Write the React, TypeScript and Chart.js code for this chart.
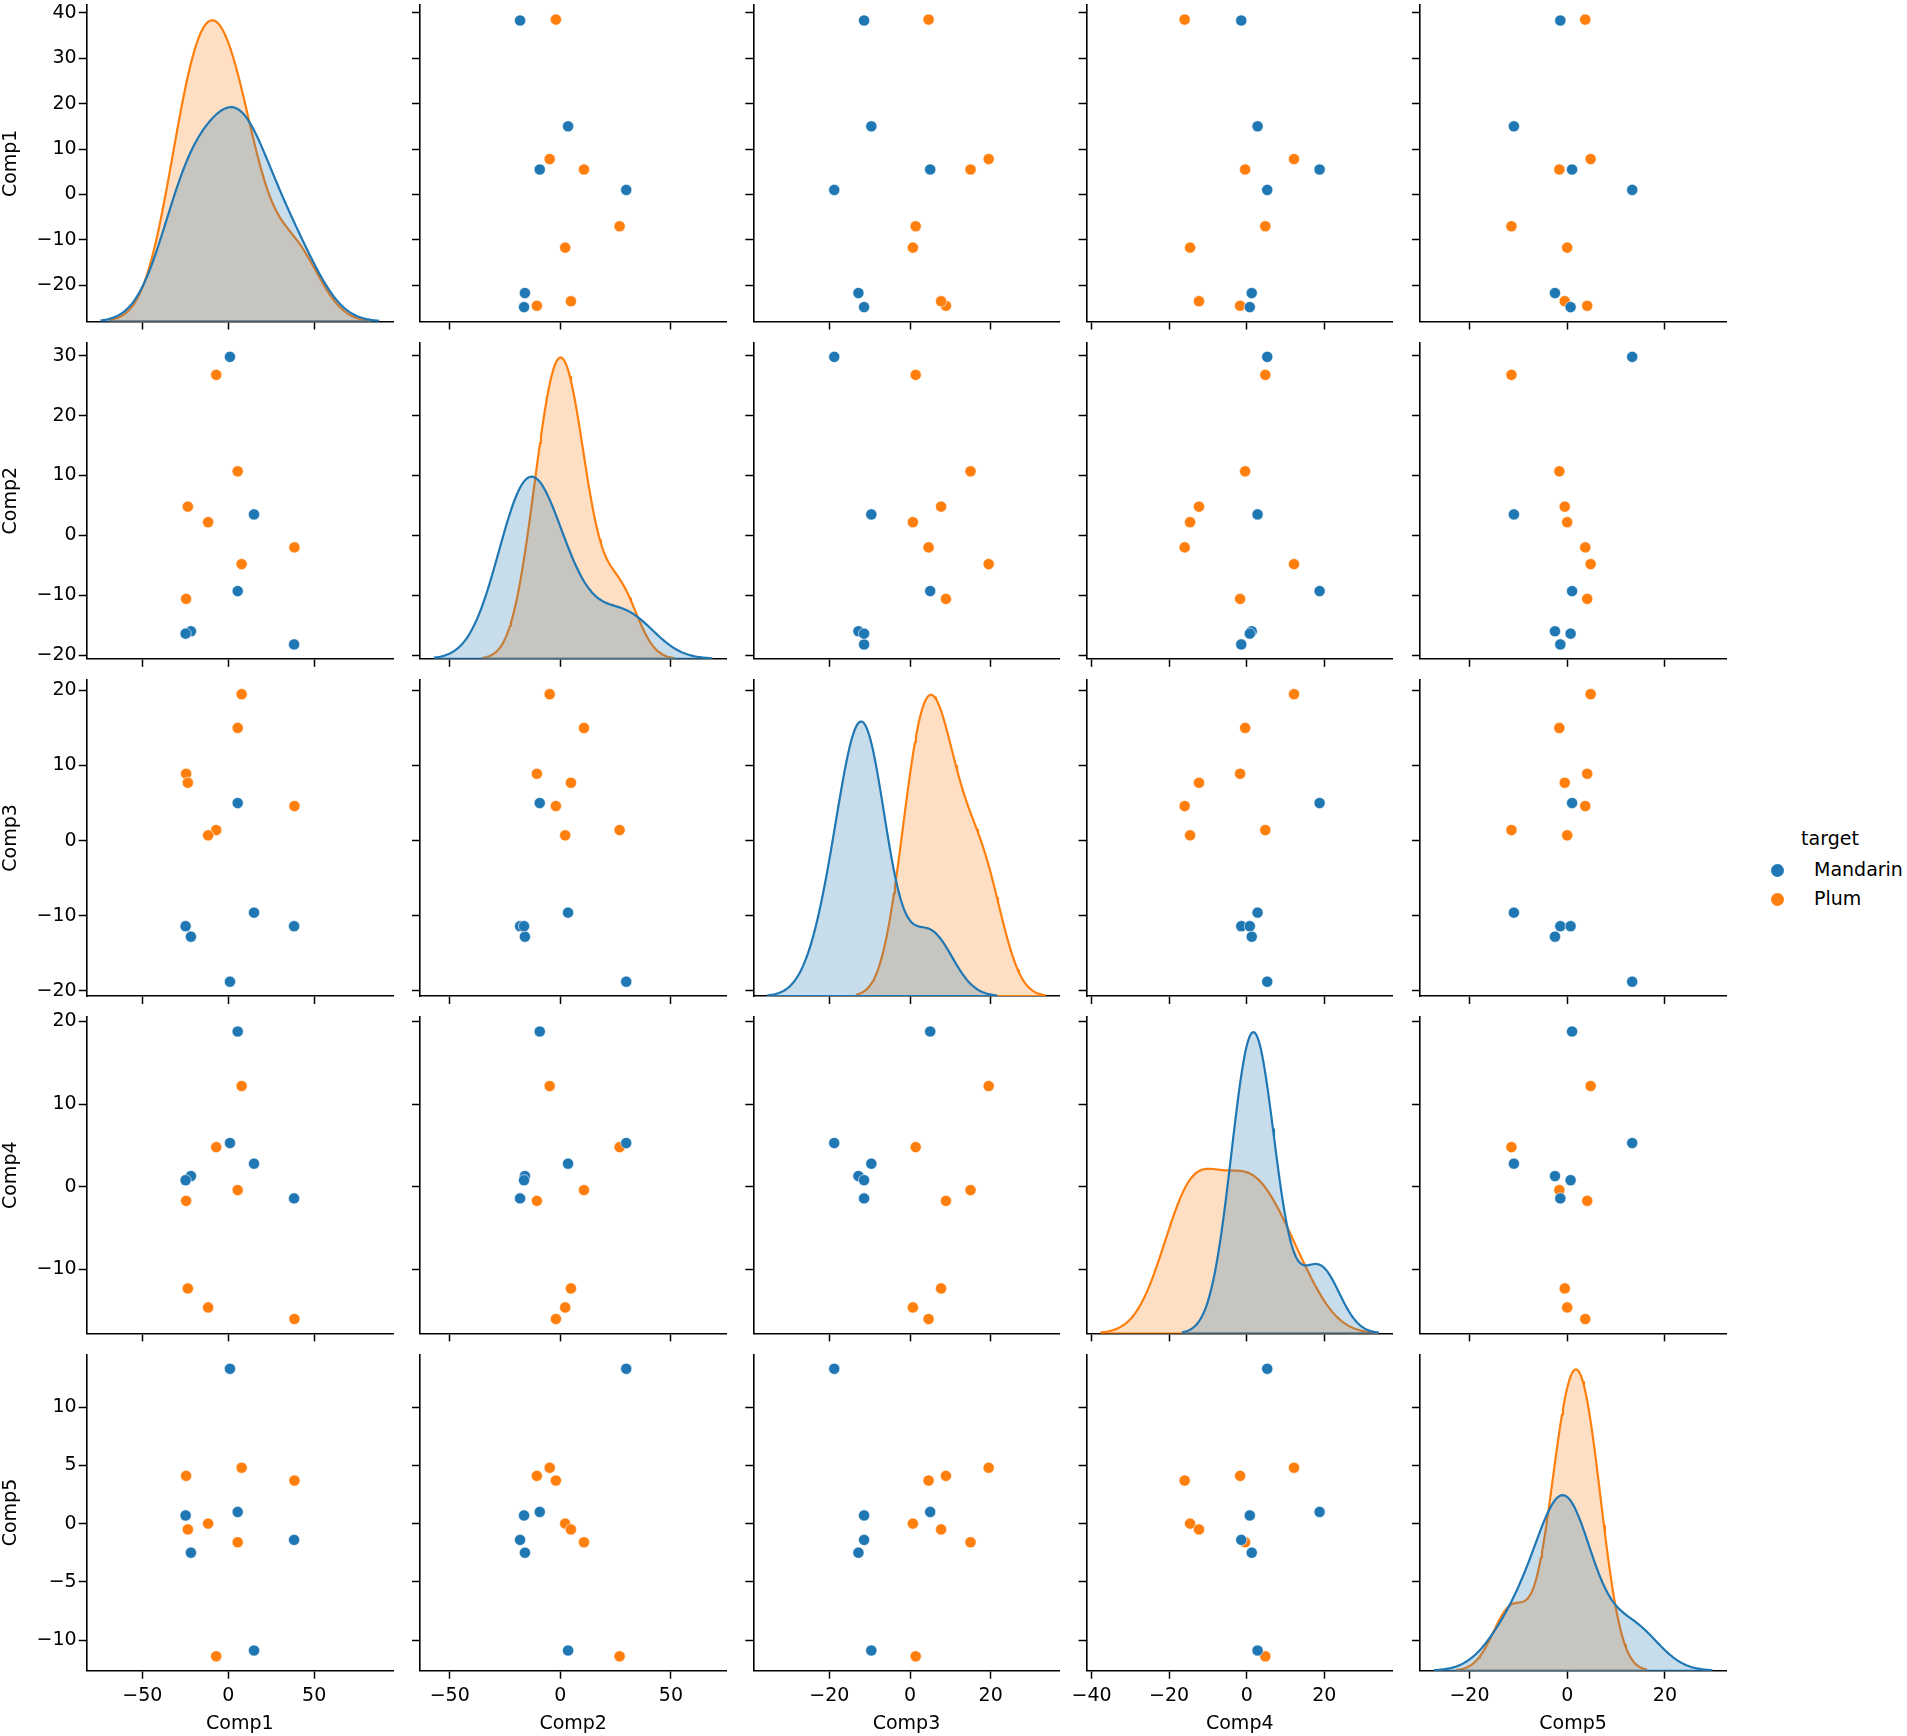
import React, { useEffect, useRef } from 'react';
import { Chart, registerables } from 'chart.js';

Chart.register(...registerables);

// ---------------- data ----------------
const variables = ['Comp1', 'Comp2', 'Comp3', 'Comp4', 'Comp5'];
const hueNames = ['Mandarin', 'Plum'];
const legendTitle = 'target';

const mandarinComp1 = [38.3, 15.0, 5.5, 1.0, -21.7, -24.8];
const mandarinComp2 = [-18.2, 3.5, -9.3, 29.8, -16.0, -16.4];
const mandarinComp3 = [-11.4, -9.6, 5.0, -18.8, -12.8, -11.4];
const mandarinComp4 = [-1.4, 2.8, 18.8, 5.3, 1.3, 0.8];
const mandarinComp5 = [-1.4, -10.9, 1.0, 13.3, -2.5, 0.7];

const plumComp1 = [38.5, 7.8, 5.5, -7.0, -11.7, -24.5, -23.5];
const plumComp2 = [-2.0, -4.8, 10.7, 26.8, 2.2, -10.6, 4.8];
const plumComp3 = [4.6, 19.5, 15.0, 1.4, 0.7, 8.9, 7.7];
const plumComp4 = [-16.0, 12.2, -0.4, 4.8, -14.6, -1.7, -12.3];
const plumComp5 = [3.7, 4.8, -1.6, -11.4, 0.0, 4.1, -0.5];

const xTickValues = [
  [-50, 0, 50],
  [-50, 0, 50],
  [-20, 0, 20],
  [-40, -20, 0, 20],
  [-20, 0, 20],
];
const yTickValues = [
  [-20, -10, 0, 10, 20, 30, 40],
  [-20, -10, 0, 10, 20, 30],
  [-20, -10, 0, 10, 20],
  [-10, 0, 10, 20],
  [-10, -5, 0, 5, 10],
];

// ---------------- styles / layout ----------------
const FONT = 'DejaVu Sans';
const FONT_SIZE = 19;
const COLORS = ['#1f77b4', '#ff7f0e'];
const FILLS = ['rgba(31,119,180,0.25)', 'rgba(255,127,14,0.25)'];
const PAGE_W = 1907;
const PAGE_H = 1736;
const GRID_LEFT = 86.7;
const COL_PITCH = 333.3;
const CELL_W = 306.3;
const GRID_TOP = 5.2;
const ROW_PITCH = 337.3;
const CELL_H = 316.3;

const hueData = [
  [mandarinComp1, mandarinComp2, mandarinComp3, mandarinComp4, mandarinComp5],
  [plumComp1, plumComp2, plumComp3, plumComp4, plumComp5],
];
const TOTAL = mandarinComp1.length + plumComp1.length;

function kde(values: number[]) {
  const n = values.length;
  const mean = values.reduce((a, b) => a + b, 0) / n;
  const variance = values.reduce((a, b) => a + (b - mean) * (b - mean), 0) / (n - 1);
  const bw = Math.sqrt(variance) * Math.pow(n, -0.2);
  const lo = Math.min(...values) - 3 * bw;
  const hi = Math.max(...values) + 3 * bw;
  const pts: { x: number; y: number }[] = [];
  const G = 200;
  for (let i = 0; i < G; i++) {
    const x = lo + ((hi - lo) * i) / (G - 1);
    let d = 0;
    for (const v of values) {
      const z = (x - v) / bw;
      d += Math.exp(-0.5 * z * z);
    }
    d = (d / (n * bw * Math.sqrt(2 * Math.PI))) * (n / TOTAL);
    pts.push({ x, y: d });
  }
  return { pts, lo, hi };
}

const kdes = variables.map((_, v) => hueData.map((h) => kde(h[v])));

const colRange = variables.map((_, v) => {
  const lo = Math.min(...kdes[v].map((k) => k.lo), ...hueData.flatMap((h) => h[v]));
  const hi = Math.max(...kdes[v].map((k) => k.hi), ...hueData.flatMap((h) => h[v]));
  const m = (hi - lo) * 0.05;
  return [lo - m, hi + m];
});
const rowRange = variables.map((_, v) => {
  const all = hueData.flatMap((h) => h[v]);
  const lo = Math.min(...all);
  const hi = Math.max(...all);
  const m = (hi - lo) * 0.05;
  return [lo - m, hi + m];
});
const densMax = variables.map((_, v) =>
  Math.max(...kdes[v].flatMap((k) => k.pts.map((p) => p.y))) * 1.05
);

const fmt = (val: any) => {
  const n = Number(val);
  return n < 0 ? '\u2212' + Math.abs(n) : String(n);
};

type Cell = {
  r: number;
  c: number;
  canvasL: number;
  canvasT: number;
  canvasW: number;
  canvasH: number;
  yAxisW: number;
  xAxisH: number;
  padTop: number;
  padRight: number;
};

const cells: Cell[] = [];
for (let r = 0; r < 5; r++) {
  for (let c = 0; c < 5; c++) {
    const plotL = GRID_LEFT + c * COL_PITCH;
    const plotT = GRID_TOP + r * ROW_PITCH;
    const plotR = plotL + CELL_W;
    const plotB = plotT + CELL_H;
    const canvasL = Math.max(0, Math.floor(plotL - 90));
    const canvasT = Math.max(0, Math.floor(plotT - 14));
    const canvasR = Math.min(PAGE_W, Math.ceil(plotR + 14));
    const canvasB = Math.min(PAGE_H, Math.ceil(plotB + 68));
    cells.push({
      r,
      c,
      canvasL,
      canvasT,
      canvasW: canvasR - canvasL,
      canvasH: canvasB - canvasT,
      yAxisW: plotL - canvasL,
      xAxisH: canvasB - plotB,
      padTop: plotT - canvasT,
      padRight: canvasR - plotR,
    });
  }
}

function buildConfig(cell: Cell): any {
  const { r, c } = cell;
  const font = { family: FONT, size: FONT_SIZE };
  const zeroPad = (s: any) => {
    s.paddingLeft = 0;
    s.paddingRight = 0;
    s.paddingTop = 0;
    s.paddingBottom = 0;
  };
  const grid = {
    display: true,
    drawOnChartArea: false,
    drawTicks: true,
    tickLength: 8,
    tickWidth: 1.5,
    tickColor: '#000',
    color: '#000',
  };
  const border = { display: true, color: '#000', width: 1.6 };

  const scales: any = {
    x: {
      type: 'linear',
      position: 'bottom',
      min: colRange[c][0],
      max: colRange[c][1],
      bounds: 'data',
      afterBuildTicks: (s: any) => {
        s.ticks = xTickValues[c].map((v) => ({ value: v }));
      },
      afterFit: (s: any) => {
        s.height = cell.xAxisH;
        zeroPad(s);
      },
      grid,
      border,
      ticks: {
        display: r === 4,
        font,
        color: '#000',
        padding: 5.5,
        maxRotation: 0,
        minRotation: 0,
        autoSkip: false,
        callback: fmt,
      },
      title: {
        display: r === 4,
        text: variables[c],
        font,
        color: '#000',
        padding: { top: 0, bottom: cell.xAxisH - 53 - FONT_SIZE * 0.6 },
      },
    },
    y: {
      type: 'linear',
      position: 'left',
      min: rowRange[r][0],
      max: rowRange[r][1],
      bounds: 'data',
      afterBuildTicks: (s: any) => {
        s.ticks = yTickValues[r].map((v) => ({ value: v }));
      },
      afterFit: (s: any) => {
        s.width = cell.yAxisW;
        zeroPad(s);
      },
      grid,
      border,
      ticks: {
        display: c === 0,
        font,
        color: '#000',
        padding: 2,
        autoSkip: false,
        callback: fmt,
      },
      title: {
        display: c === 0,
        text: variables[r],
        font,
        color: '#000',
        padding: { top: cell.yAxisW - 75.2 - FONT_SIZE * 0.6, bottom: 0 },
      },
    },
  };

  const datasets: any[] = [];
  if (r === c) {
    scales.yd = {
      type: 'linear',
      position: 'right',
      display: false,
      min: 0,
      max: densMax[c],
    };
    // Mandarin drawn on top of Plum (index 0 drawn last)
    [0, 1].forEach((h) => {
      const k = kdes[c][h];
      datasets.push({
        type: 'line',
        label: hueNames[h],
        data: k.pts,
        xAxisID: 'x',
        yAxisID: 'yd',
        borderColor: COLORS[h],
        backgroundColor: FILLS[h],
        borderWidth: 2.2,
        pointRadius: 0,
        pointHoverRadius: 0,
        tension: 0,
        fill: 'origin',
        borderJoinStyle: 'round',
      });
      datasets.push({
        type: 'line',
        label: hueNames[h] + ' base',
        data: [
          { x: k.lo, y: 0 },
          { x: k.hi, y: 0 },
        ],
        xAxisID: 'x',
        yAxisID: 'yd',
        borderColor: COLORS[h],
        borderWidth: 2,
        pointRadius: 0,
        pointHoverRadius: 0,
        fill: false,
      });
    });
  } else {
    [0, 1].forEach((h) => {
      const xs = hueData[h][c];
      const ys = hueData[h][r];
      datasets.push({
        type: 'scatter',
        label: hueNames[h],
        data: xs.map((x, i) => ({ x, y: ys[i] })),
        xAxisID: 'x',
        yAxisID: 'y',
        backgroundColor: COLORS[h],
        borderColor: '#ffffff',
        borderWidth: 0.6,
        pointRadius: 5.6,
        pointHoverRadius: 5.6,
      });
    });
  }

  return {
    type: 'scatter',
    data: { datasets },
    options: {
      animation: false,
      responsive: true,
      maintainAspectRatio: false,
      events: [],
      layout: {
        autoPadding: false,
        padding: { top: cell.padTop, right: cell.padRight, bottom: 0, left: 0 },
      },
      plugins: {
        legend: { display: false },
        tooltip: { enabled: false },
        title: { display: false },
      },
      scales,
    },
  };
}

export default function App() {
  const refs = useRef<(HTMLCanvasElement | null)[]>([]);

  useEffect(() => {
    Chart.defaults.font.family = FONT;
    const charts: Chart[] = [];
    cells.forEach((cell, i) => {
      const cv = refs.current[i];
      if (cv) charts.push(new Chart(cv, buildConfig(cell)));
    });
    return () => charts.forEach((ch) => ch.destroy());
  }, []);

  const textStyle: React.CSSProperties = {
    position: 'absolute',
    fontFamily: FONT,
    fontSize: FONT_SIZE,
    lineHeight: '22px',
    color: '#000',
    whiteSpace: 'nowrap',
  };
  const marker = (cx: number, cy: number, color: string): React.CSSProperties => ({
    position: 'absolute',
    left: cx - 6.5,
    top: cy - 6.5,
    width: 13,
    height: 13,
    borderRadius: '50%',
    background: color,
  });

  return (
    <div
      style={{
        position: 'absolute',
        left: 0,
        top: 0,
        width: PAGE_W,
        height: PAGE_H,
        background: '#ffffff',
        overflow: 'hidden',
      }}
    >
      {cells.map((cell, i) => (
        <div
          key={i}
          style={{
            position: 'absolute',
            left: cell.canvasL,
            top: cell.canvasT,
            width: cell.canvasW,
            height: cell.canvasH,
          }}
        >
          <canvas
            ref={(el) => {
              refs.current[i] = el;
            }}
          />
        </div>
      ))}
      <div style={{ ...textStyle, left: 1830, top: 827.4, transform: 'translateX(-50%)' }}>
        {legendTitle}
      </div>
      <div style={marker(1777.3, 870, COLORS[0])} />
      <div style={{ ...textStyle, left: 1814, top: 858.1 }}>{hueNames[0]}</div>
      <div style={marker(1777.3, 899, COLORS[1])} />
      <div style={{ ...textStyle, left: 1814, top: 887.4 }}>{hueNames[1]}</div>
    </div>
  );
}
